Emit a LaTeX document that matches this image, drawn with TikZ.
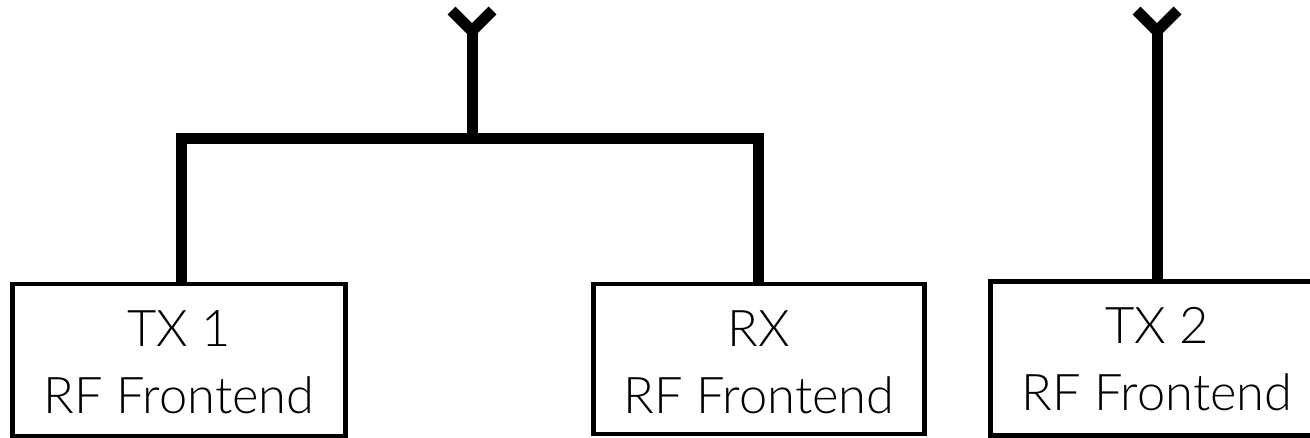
\documentclass[tikz,border=0pt]{standalone}
\usepackage{fontspec}
\setmainfont{Lato}[UprightFont=* Light]
\begin{document}
\begin{tikzpicture}[x=1bp,y=-1bp,
  rfbox/.style={draw=black,line width=4.5bp,fill=white,inner sep=0pt,outer sep=0pt,anchor=north west},
  rflabel/.style={font=\fontsize{50.6bp}{67bp}\selectfont,align=center,anchor=center},
  wire/.style={draw=black,line width=11bp},
  arm/.style={draw=black,line width=11bp,line cap=butt}]
\useasboundingbox (0,0) rectangle (1310,438);
\clip (0,0) rectangle (1310,438);
\coordinate (feedA) at (472,139);
\coordinate (topA) at (472,31);
\coordinate (armAL) at (451.5,10.5);
\coordinate (armAR) at (492.5,10.5);
\coordinate (cornerL) at (181,139);
\coordinate (cornerR) at (758,139);
\coordinate (topB) at (1157,31);
\coordinate (armBL) at (1136.5,10.5);
\coordinate (armBR) at (1177.5,10.5);
\coordinate (tx1in) at (181,284);
\coordinate (rxin) at (758,284);
\coordinate (tx2in) at (1157,281);
\draw[wire] (tx1in) -- (cornerL) -- (cornerR) -- (rxin);
\draw[wire] (feedA) -- (topA);
\draw[wire] (tx2in) -- (topB);
\draw[arm,line join=miter] (armAL) -- (topA) -- (armAR);
\draw[arm,line join=miter] (armBL) -- (topB) -- (armBR);
\node[rfbox,minimum width=333bp,minimum height=152bp] (tx1) at (12.5,284) {};
\node[rfbox,minimum width=331bp,minimum height=150bp] (rx) at (593.5,284) {};
\node[rfbox,minimum width=330bp,minimum height=154bp] (tx2) at (990.5,281.5) {};
\node[rflabel] (t1) at (179,362) {TX 1\\RF Frontend};
\node[rflabel] (t2) at (759,362) {RX\\RF Frontend};
\node[rflabel] (t3) at (1157,359) {TX 2\\RF Frontend};
\end{tikzpicture}
\end{document}
